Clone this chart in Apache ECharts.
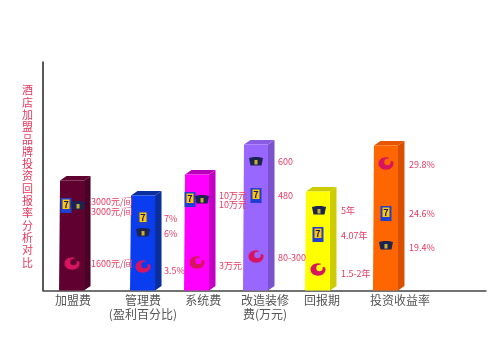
<!DOCTYPE html>
<html>
<head>
<meta charset="utf-8">
<style>
html, body { margin: 0; background: #fff; }
#chart { width: 500px; height: 357px; }
</style>
<script src="https://cdn.jsdelivr.net/npm/echarts@6/dist/echarts.min.js"></script>
</head>
<body>
<div id="chart"></div>
<script>
const FONT = '"Noto Sans CJK SC", "Liberation Serif", serif';
const LABEL_RED = "#e8385f";

// last category is empty, it only keeps the floor line running on to the right
const categories = ["加盟费", "管理费\n(盈利百分比)", "系统费", "改造装修\n费(万元)", "回报期", "投资收益率", ""];
const heights = [110, 95, 116, 146, 99, 145];

// height of each symbol on its bar
const sevenHeights = [85, 72, 91, 95, 56, 77];
const capHeights = [85, 58, 91, 129, 80, 45];
const crescentHeights = [27, 24, 28, 34, 21, 127];

// three notes per bar, top to bottom
const noteTexts = [
  ["3000元/间", "3000元/间", "1600元/间"],
  ["7%", "6%", "3.5%"],
  ["10万元", "10万元", "3万元"],
  ["600", "480", "80-300"],
  ["5年", "4.07年", "1.5-2年"],
  ["29.8%", "24.6%", "19.4%"],
];
const noteHeights = [
  [89, 79, 27],
  [72, 57, 20],
  [95, 86, 25],
  [129, 95, 33],
  [80, 55, 17],
  [126, 77, 43],
];

// layout only
const BAR_SHIFT = [-2.6, 5.1, -4.2, -8.5, -9.8, -5.1];
const LABEL_SHIFT = [-1.6, 5, 2, 0.5, -5.8, 8.9];
const NOTE_X = [91, 164, 219, 278, 341, 409];
const BAR_COLORS = [
  ["#5f0030", "#4d0026", "#5f0030"],
  ["#0a3cf0", "#0a2e9e", "#0a2e9e"],
  ["#ff00ff", "#c400c4", "#b800b8"],
  ["#9966ff", "#7a52cc", "#8a5ce6"],
  ["#ffff00", "#cccc00", "#cccc00"],
  ["#ff6600", "#d94f00", "#e65500"],
];
const SEVEN_SIDE = [-6, 0, -7, 0, 0, 0];
const CAP_SIDE = [6, 0, 5, 0, 1, 0];

function drawBar(params, api) {
  const i = api.value(0);
  const [cx, y0] = api.coord([i, 0]);
  const [, y1] = api.coord([i, api.value(1)]);
  const x = cx + BAR_SHIFT[i];
  const w = 24, dx = 6.5, dy = 4.5;
  const l = x - w / 2, r = x + w / 2;
  const [front, side, top] = BAR_COLORS[i];
  return {
    type: "group",
    children: [
      { type: "polygon", shape: { points: [[l, y1], [l + dx, y1 - dy], [r + dx, y1 - dy], [r, y1]] }, style: { fill: top } },
      { type: "polygon", shape: { points: [[r, y1], [r + dx, y1 - dy], [r + dx, y0 - dy], [r, y0]] }, style: { fill: side } },
      { type: "polygon", shape: { points: [[l, y1], [r, y1], [r, y0], [l - 1, y0]] }, style: { fill: front } },
    ],
  };
}

function drawSeven(params, api) {
  const i = api.value(0);
  const [cx, y] = api.coord([i, api.value(1)]);
  const x = cx + BAR_SHIFT[i] + SEVEN_SIDE[i];
  return {
    type: "group",
    children: [
      { type: "rect", shape: { x: x - 5.5, y: y - 7.5, width: 11, height: 15 }, style: { fill: "#1f3fd0" } },
      { type: "rect", shape: { x: x - 3.5, y: y - 6, width: 7, height: 9.5 }, style: { fill: "#ffc800" } },
      { type: "text", style: { x, y: y - 1.2, text: "7", fill: "#101a70", font: "bold 9px " + FONT, align: "center", verticalAlign: "middle" } },
    ],
  };
}

function drawCap(params, api) {
  const i = api.value(0);
  const [cx, y] = api.coord([i, api.value(1)]);
  const x = cx + BAR_SHIFT[i] + CAP_SIDE[i];
  return {
    type: "group",
    children: [
      { type: "polygon", shape: { points: [[x - 7, y - 3.5], [x - 2.5, y - 4.5], [x + 2.5, y - 4.5], [x + 7, y - 3.5], [x + 5.5, y + 4], [x - 5.5, y + 4]] }, style: { fill: "#1c2452" } },
      { type: "rect", shape: { x: x - 1.5, y: y - 1.5, width: 3, height: 4.5 }, style: { fill: "#c8b030" } },
    ],
  };
}

function drawCrescent(params, api) {
  const i = api.value(0);
  const [cx, y] = api.coord([i, api.value(1)]);
  const x = cx + BAR_SHIFT[i];
  const bg = BAR_COLORS[i][0];
  return {
    type: "group",
    children: [
      { type: "ellipse", shape: { cx: x, cy: y, rx: 7.5, ry: 6.2 }, style: { fill: "#d81460" } },
      { type: "circle", shape: { cx: x + 1.5, cy: y - 1.5, r: 3.2 }, style: { fill: bg } },
      { type: "polygon", shape: { points: [[x + 1, y - 3], [x + 4, y - 7], [x + 8, y - 2]] }, style: { fill: bg } },
    ],
  };
}

function drawNotes(params, api) {
  const i = api.value(0);
  const children = noteTexts[i].map((t, k) => {
    const [, y] = api.coord([i, noteHeights[i][k]]);
    return { type: "text", style: { x: NOTE_X[i], y, text: t, fill: LABEL_RED, font: "9px " + FONT, verticalAlign: "middle" } };
  });
  return { type: "group", children };
}

const rich = {};
LABEL_SHIFT.forEach((s, i) => {
  rich["c" + i] = {
    padding: [0, s < 0 ? -s * 2 : 0, 0, s > 0 ? s * 2 : 0],
    fontFamily: FONT, fontSize: 12, color: "#555", lineHeight: 14,
  };
});

const rows = (arr) => arr.map((v, i) => [i, v]);
const chart = echarts.init(document.getElementById("chart"));
chart.setOption({
  animation: false,
  backgroundColor: "#fff",
  grid: { left: 43, right: 14, top: 62, bottom: 66.5 },
  xAxis: {
    type: "category",
    data: categories,
    axisLine: { lineStyle: { color: "#444", width: 1.5 } },
    axisTick: { show: false },
    axisLabel: {
      interval: 0,
      margin: 3,
      formatter: (v, i) => v ? v.split("\n").map((t) => `{c${i}|${t}}`).join("\n") : "",
      rich,
    },
  },
  yAxis: {
    type: "value",
    min: 0,
    max: 228.5,
    interval: 228.5,
    name: "酒店加盟品牌投资回报率分析对比".split("").join("\n"),
    nameLocation: "middle",
    nameRotate: 0,
    nameGap: 10,
    nameTextStyle: { color: LABEL_RED, fontFamily: FONT, fontSize: 11, lineHeight: 12.3, padding: [7, 0, 0, 0] },
    axisLine: { show: true, lineStyle: { color: "#222", width: 1.5 } },
    axisTick: { show: false },
    axisLabel: { show: false },
    splitLine: { show: false },
  },
  series: [
    { type: "custom", renderItem: drawBar, data: rows(heights), z: 2 },
    { type: "custom", renderItem: drawSeven, data: rows(sevenHeights), z: 3 },
    { type: "custom", renderItem: drawCap, data: rows(capHeights), z: 3 },
    { type: "custom", renderItem: drawCrescent, data: rows(crescentHeights), z: 3 },
    { type: "custom", renderItem: drawNotes, data: rows(heights), z: 4 },
  ],
});
</script>
</body>
</html>
